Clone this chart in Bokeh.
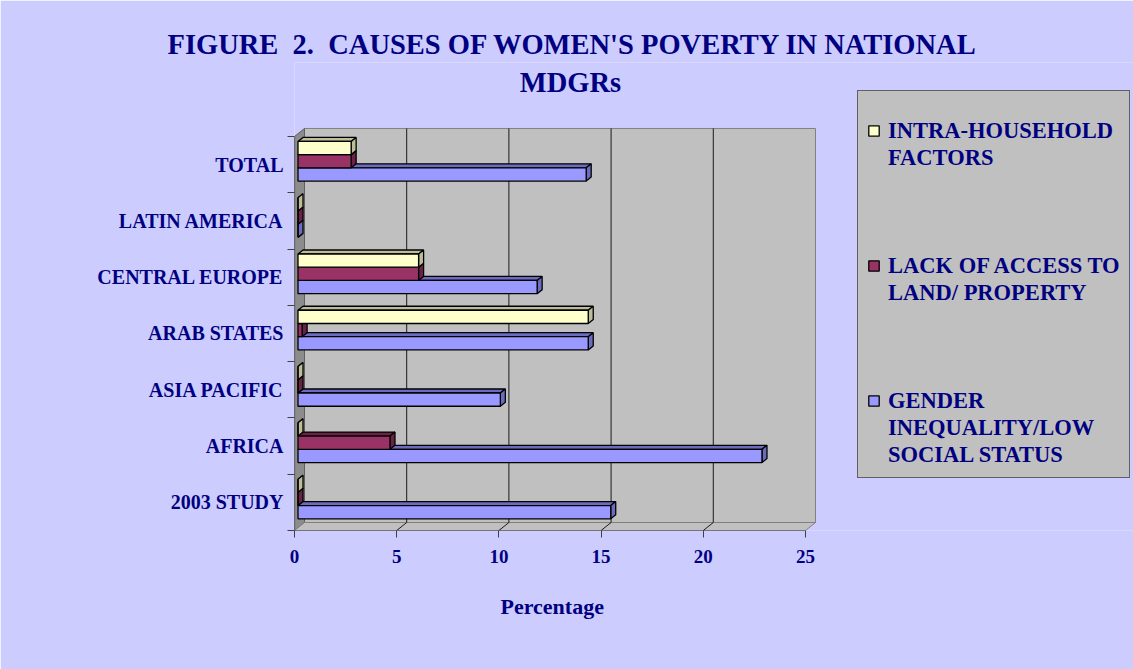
from bokeh.plotting import figure
from bokeh.models import (Range1d, FixedTicker, Title, Legend, LegendItem,
                          ColumnDataSource, Label)
from bokeh.embed import file_html
from bokeh.resources import INLINE

# ---------------- data ----------------
categories = ["2003 STUDY", "AFRICA", "ASIA PACIFIC", "ARAB STATES",
              "CENTRAL EUROPE", "LATIN AMERICA", "TOTAL"]
gender_inequality = [15.3, 22.7, 9.9, 14.2, 11.7, 0.0, 14.1]
lack_of_land = [0.0, 4.5, 0.0, 0.2, 5.9, 0.0, 2.6]
intra_household = [0.0, 0.0, 0.0, 14.2, 5.9, 0.0, 2.6]
series_label_lines = [["GENDER", "INEQUALITY/LOW", "SOCIAL STATUS"],
                      ["LACK OF ACCESS TO", "LAND/ PROPERTY"],
                      ["INTRA-HOUSEHOLD", "FACTORS"]]
x_ticks = [0, 5, 10, 15, 20, 25]
x_max = 25
title_line1 = "FIGURE\u00a0 2.\u00a0 CAUSES OF WOMEN'S POVERTY IN NATIONAL"
title_line2 = "MDGRs"
x_label = "Percentage"

# ---------------- style / geometry ----------------
BG = "#CCCCFF"
NAVY = "#000080"
FONT = "Liberation Serif"
front_colors = ["#9999FF", "#993366", "#FFFFCC"]
shade_colors = ["#6B6BC0", "#6A2347", "#BDBD98"]
bar_offsets = [-0.175, 0.06, 0.295]
bar_h = 0.235

W, H = 1133, 669
LEFT, TOP, BOTTOM = 294, 62, 139
FRAME_W, FRAME_H = W - LEFT, H - BOTTOM - TOP
FRAME_BOTTOM_SY = H - BOTTOM
px_x = 521 / (x_max + 0.49)                  # pixels per unit along x
px_y = 56.29                                 # pixels per category band
y_lo, y_hi_front = -0.5, len(categories) - 0.5
wall_dx = 10 / px_x
wall_dy = 8 / px_y
bar_x0 = 3.5 / px_x
bar_ddx = 5 / px_x
bar_ddy = 4 / px_y

def sx_to_x(sx):
    return (sx - LEFT) / px_x

def sy_to_y(sy):
    return y_lo + (FRAME_BOTTOM_SY - sy) / px_y

p = figure(width=W, height=H,
           x_range=Range1d(0, FRAME_W / px_x),
           y_range=Range1d(y_lo, y_lo + FRAME_H / px_y),
           output_backend="svg", toolbar_location=None,
           min_border_left=LEFT, min_border_right=0,
           min_border_top=TOP, min_border_bottom=BOTTOM,
           background_fill_color=BG, border_fill_color=BG,
           outline_line_color=None)
p.grid.visible = False

# ---------------- walls ----------------
p.patch([wall_dx, x_max + wall_dx, x_max + wall_dx, wall_dx],
        [y_lo + wall_dy, y_lo + wall_dy, y_hi_front + wall_dy, y_hi_front + wall_dy],
        fill_color="#C0C0C0", line_color="#808080", line_width=1)
p.patch([0, wall_dx, wall_dx, 0],
        [y_lo, y_lo + wall_dy, y_hi_front + wall_dy, y_hi_front],
        fill_color="#8C8C8C", line_color="#606060", line_width=1)
p.patch([0, x_max, x_max + wall_dx, wall_dx],
        [y_lo, y_lo, y_lo + wall_dy, y_lo + wall_dy],
        fill_color="#C0C0C0", line_color="#808080", line_width=1)
grid_vals = [v for v in x_ticks if 0 < v < x_max]
p.segment(x0=[v + wall_dx for v in grid_vals], y0=[y_lo + wall_dy] * len(grid_vals),
          x1=[v + wall_dx for v in grid_vals], y1=[y_hi_front + wall_dy] * len(grid_vals),
          line_color="#1a1a1a", line_width=1)
p.segment(x0=[v for v in grid_vals], y0=[y_lo] * len(grid_vals),
          x1=[v + wall_dx for v in grid_vals], y1=[y_lo + wall_dy] * len(grid_vals),
          line_color="#1a1a1a", line_width=1)

# ---------------- bars ----------------
series = [gender_inequality, lack_of_land, intra_household]
fronts = []
for s, vals in enumerate(series):
    xs_faces, ys_faces = [], []
    lefts, rights, bottoms, tops = [], [], [], []
    for i, v in enumerate(vals):
        yc = i + bar_offsets[s]
        b, t = yc - bar_h / 2, yc + bar_h / 2
        x0, x1 = bar_x0, bar_x0 + v
        xs_faces.append([x0, x1, x1 + bar_ddx, x0 + bar_ddx])
        ys_faces.append([t, t, t + bar_ddy, t + bar_ddy])
        xs_faces.append([x1, x1 + bar_ddx, x1 + bar_ddx, x1])
        ys_faces.append([b, b + bar_ddy, t + bar_ddy, t])
        lefts.append(x0); rights.append(x1); bottoms.append(b); tops.append(t)
    p.patches(xs_faces, ys_faces, fill_color=shade_colors[s], line_color="black", line_width=1.3)
    src = ColumnDataSource(dict(left=lefts, right=rights, bottom=bottoms, top=tops))
    fronts.append(p.quad(left="left", right="right", bottom="bottom", top="top", source=src,
                         fill_color=front_colors[s], line_color="black", line_width=1.3))

p.segment(x0=[0, 0], y0=[y_lo, y_lo], x1=[0, x_max], y1=[y_hi_front, y_lo],
          line_color="#404040", line_width=1.2)

# ---------------- axes ----------------
p.yaxis.ticker = FixedTicker(ticks=list(range(len(categories))),
                             minor_ticks=[k - 0.5 for k in range(len(categories) + 1)])
p.yaxis.major_label_overrides = {i: c for i, c in enumerate(categories)}
p.yaxis.major_tick_out = 0
p.yaxis.major_tick_in = 0
p.yaxis.minor_tick_out = 7
p.yaxis.minor_tick_in = 0
p.yaxis.minor_tick_line_color = "#404040"
p.yaxis.axis_line_color = None
p.yaxis.major_label_standoff = 4
p.yaxis.major_label_text_font = FONT
p.yaxis.major_label_text_font_style = "bold"
p.yaxis.major_label_text_font_size = "20px"
p.yaxis.major_label_text_color = NAVY

p.xaxis.ticker = FixedTicker(ticks=x_ticks)
p.xaxis.major_tick_out = 7
p.xaxis.major_tick_in = 0
p.xaxis.minor_tick_out = 0
p.xaxis.major_tick_line_color = "#404040"
p.xaxis.axis_line_color = None
p.xaxis.major_label_standoff = 12
p.xaxis.major_label_text_font = FONT
p.xaxis.major_label_text_font_style = "bold"
p.xaxis.major_label_text_font_size = "19px"
p.xaxis.major_label_text_color = NAVY

xl = Title(text=x_label, align="left", offset=206, standoff=52,
           text_font=FONT, text_font_style="bold", text_font_size="22px", text_color=NAVY)
p.add_layout(xl, "below")

# ---------------- titles ----------------
p.title.text = title_line1
p.title.align = "left"
p.title.offset = -127
p.title.standoff = 6
p.title.text_font = FONT
p.title.text_font_style = "bold"
p.title.text_font_size = "28.5px"
p.title.text_color = NAVY

p.add_layout(Label(x=sx_to_x(570), y=sy_to_y(82), text=title_line2,
                   text_align="center", text_baseline="middle",
                   text_font=FONT, text_font_style="bold", text_font_size="28.5px",
                   text_color=NAVY))

# ---------------- legend (one line per entry row) ----------------
blank = p.quad(left=[], right=[], bottom=[], top=[], fill_alpha=0, line_alpha=0)
items = []
order = [2, 1, 0]
for n, s in enumerate(order):
    lines = series_label_lines[s]
    items.append(LegendItem(label=lines[0], renderers=[fronts[s]]))
    for ln in lines[1:]:
        items.append(LegendItem(label=ln, renderers=[blank]))
    if n < len(order) - 1:
        for _ in range(3):
            items.append(LegendItem(label="\u00a0", renderers=[blank]))

legend = Legend(items=items, location=(857 - LEFT, FRAME_BOTTOM_SY - 478),
                orientation="vertical")
legend.title = "\u00a0"
legend.title_text_font_size = "1px"
legend.title_standoff = 16
legend.background_fill_color = "#C0C0C0"
legend.background_fill_alpha = 1
legend.border_line_color = "black"
legend.border_line_width = 1
legend.label_text_font = FONT
legend.label_text_font_style = "bold"
legend.label_text_font_size = "22.5px"
legend.label_text_color = NAVY
legend.label_height = 27
legend.glyph_width = 13
legend.glyph_height = 13
legend.label_standoff = 8
legend.padding = 9
legend.spacing = 0
legend.margin = 0
p.add_layout(legend)

open("out.html", "w").write(file_html(p, INLINE))
